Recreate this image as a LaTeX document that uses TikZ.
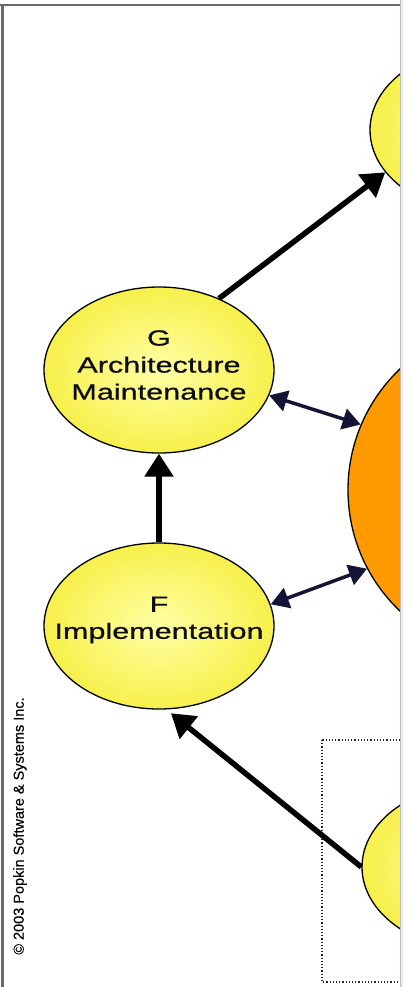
\documentclass[tikz,border=0pt]{standalone}
\usepackage{fontspec}
\setmainfont{Liberation Sans}
\usetikzlibrary{shapes.geometric,arrows.meta}
\definecolor{navyarrow}{RGB}{20,20,55}
\definecolor{ylwin}{RGB}{255,255,165}
\definecolor{ylwout}{RGB}{247,240,75}
\definecolor{orng}{RGB}{255,154,0}
\definecolor{framegray}{RGB}{105,105,105}
\definecolor{winbeige}{RGB}{236,233,224}
\newcommand\hstretch[1]{\scalebox{1.39}[1]{#1}}
\tikzset{
  yel/.style={ellipse, draw=black, line width=1.3pt, minimum width=230pt, minimum height=166pt,
    inner color=ylwin, outer color=ylwout},
  orb/.style={ellipse, draw=black, line width=1.3pt, minimum width=334pt, minimum height=334pt,
    fill=orng},
  lbl/.style={align=center, font=\fontsize{22}{27}\selectfont\addfontfeature{FakeBold=0.6}, text=black!95},
  bigarrow/.style={line width=5.5pt, draw=black, -{Triangle[length=23pt,width=28pt]}},
  duoarrow/.style={line width=3.5pt, draw=navyarrow, {Triangle[length=18pt,width=21pt]}-{Triangle[length=18pt,width=21pt]}},
  boxline/.style={draw=black!85, line width=1.2pt, dotted},
}
\begin{document}
\begin{tikzpicture}[x=1pt,y=-1pt]
\useasboundingbox (0,0) rectangle (403,987);
\fill[white] (0,0) rectangle (403,987);
\begin{scope}
\clip (0,0) rectangle (400,987);
% nodes
\node[yel] (TR) at (485,130) {};
\node[orb] (O) at (515,490) {};
\node[yel] (BR) at (477,867) {};
\node[yel] (G) at (159,370) {};
\node[yel] (F) at (159,626) {};
\node[lbl] (Gt) at ([yshift=5pt]G.center) {\hstretch{G}\\\hstretch{Architecture}\\\hstretch{Maintenance}};
\node[lbl] (Ft) at ([yshift=6pt]F.center) {\hstretch{F}\\\hstretch{Implementation}};
% dotted box
\coordinate (boxA) at (322,740);
\coordinate (boxB) at (420,982);
\draw[boxline] (boxA) rectangle (boxB);
% connectors
\draw[bigarrow] (G.50) -- (TR.203);
\draw[bigarrow] (F.north) -- (G.south);
\draw[bigarrow, shorten >=6pt] (BR.west) -- (F.275);
\draw[duoarrow] (G.347) -- (O.157);
\draw[duoarrow] (F.11) -- (O.208);
% frame
\fill[framegray] (0,4) rectangle (400,6.5);
\fill[framegray] (1,4) rectangle (4,987);
\end{scope}
\fill[winbeige] (400,0) rectangle (403,987);
\draw[black!25, line width=0.8pt] (400.4,0) -- (400.4,987);
\node[rotate=90, font=\fontsize{14.5}{16}\selectfont\addfontfeature{FakeBold=0.3}] (copy) at (20,826) {© 2003 Popkin Software \& Systems Inc.};
\end{tikzpicture}
\end{document}
